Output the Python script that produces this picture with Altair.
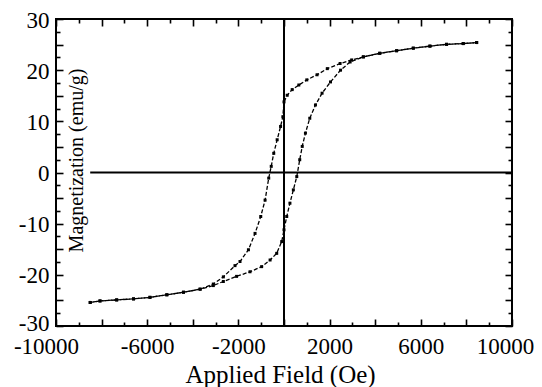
import altair as alt
import pandas as pd

# Descending branch (field swept from + to -)
desc_H = [8450, 7860, 7130, 6400, 5670, 4940, 4200, 3480, 2970, 2460, 1900, 1450, 1000, 650, 360, 140, 0,
          -50, -150, -300, -450, -560, -670, -830, -1020, -1270, -1560, -1930, -2150, -2660, -3100, -3680,
          -4410, -5140, -5880, -6600, -7340, -8070, -8500]
desc_M = [25.4, 25.2, 25.05, 24.7, 24.3, 23.8, 23.3, 22.6, 22.0, 21.3, 20.3, 19.1, 18.1, 17.1, 16.2, 15.1, 13.8,
          10.9, 9.0, 6.4, 3.75, 1.2, -1.1, -5.4, -8.6, -11.9, -15.1, -17.4, -18.2, -20.4, -21.8, -22.8,
          -23.4, -23.9, -24.4, -24.7, -24.9, -25.1, -25.4]

# Ascending branch (field swept from - to +)
asc_H = [-8500, -8070, -7340, -6600, -5880, -5140, -4410, -3680, -3100, -2660, -2080, -1490, -980, -610, -320,
         -100, 0, 120, 260, 410, 560, 690, 800, 940, 1130, 1380, 1670, 2040, 2480, 2900, 3480, 4200, 4940,
         5670, 6400, 7130, 7860, 8450]
asc_M = [-25.4, -25.1, -24.9, -24.7, -24.4, -23.9, -23.4, -22.8, -22.1, -21.3, -20.3, -19.4, -18.4, -17.1, -15.8,
         -13.5, -11.2, -8.6, -6.0, -3.4, -0.8, 2.5, 5.1, 7.7, 10.6, 13.2, 15.5, 17.7, 20.0, 21.6, 22.6, 23.3, 23.8,
         24.3, 24.7, 25.05, 25.2, 25.4]

x_label_values = [-10000, -6000, -2000, 2000, 6000, 10000]
x_major_ticks = list(range(-10000, 10001, 2000))
x_minor_ticks = list(range(-9000, 10000, 2000))
y_label_values = [-30, -20, -10, 0, 10, 20, 30]
y_major_ticks = list(range(-30, 31, 5))
y_minor_ticks = [-27.5, -22.5, -17.5, -12.5, -7.5, -2.5, 2.5, 7.5, 12.5, 17.5, 22.5, 27.5]
zero_values = [0]
hline_start = -8500
hline_end = 10000

rows = []
for i, (h, m) in enumerate(zip(desc_H, desc_M)):
    rows.append({"H": h, "M": m, "branch": "desc", "order": i})
for i, (h, m) in enumerate(zip(asc_H, asc_M)):
    rows.append({"H": h, "M": m, "branch": "asc", "order": i})
df = pd.DataFrame(rows)
zdf = pd.DataFrame({"v": zero_values})

W, H = 456, 307
FONT = "Liberation Serif"
HYPHEN_LABEL = "datum.value < 0 ? '-' + abs(datum.value) : '' + datum.value"

xscale = alt.Scale(domain=[-10000, 10000], nice=False, zero=False)
yscale = alt.Scale(domain=[-30, 30], nice=False, zero=False)

line = alt.Chart(df).mark_line(
    color="black", strokeWidth=1.3, strokeDash=[4, 2],
    point=alt.OverlayMarkDef(shape="square", size=9, filled=True, color="black")
).encode(
    x=alt.X("H:Q", scale=xscale, axis=alt.Axis(
        orient="bottom",
        values=x_label_values, ticks=False, domain=False, grid=False, labelExpr=HYPHEN_LABEL,
        labelFont=FONT, labelFontSize=23, labelColor="black", labelPadding=9, labelFlush=False,
        labelOverlap=False,
        labelOffset={"condition": [{"test": "datum.value <= -10000", "value": -10},
                                   {"test": "datum.value >= 10000", "value": -7}], "value": 0},
        title="Applied Field (Oe)", titleFont=FONT, titleFontSize=25, titleFontWeight="normal",
        titleColor="black", titleX=224, titleY=56, titleBaseline="alphabetic", titleAlign="center")),
    y=alt.Y("M:Q", scale=yscale, axis=alt.Axis(
        orient="left",
        values=y_label_values, ticks=False, domain=False, grid=False, labelExpr=HYPHEN_LABEL,
        labelFont=FONT, labelFontSize=23, labelColor="black", labelPadding=7, labelFlush=False,
        labelOverlap=False,
        labelOffset={"condition": {"test": "datum.value <= -30", "value": -3}, "value": 1},
        title="Magnetization (emu/g)", titleFont=FONT, titleFontSize=20, titleFontWeight="normal",
        titleColor="black", titleAngle=270, titleX=26, titleY=141, titleBaseline="alphabetic",
        titleAlign="center")),
    detail="branch:N",
    order="order:Q",
)


def tick_layer(xorient, xoffset, yorient, yoffset, xvals, yvals, size):
    return alt.Chart(df).mark_point(opacity=0).encode(
        x=alt.X("H:Q", scale=xscale, axis=alt.Axis(
            orient=xorient, offset=xoffset, values=xvals, labels=False, domain=False, grid=False,
            title=None, tickSize=size, tickColor="black", tickWidth=1.6)),
        y=alt.Y("M:Q", scale=yscale, axis=alt.Axis(
            orient=yorient, offset=yoffset, values=yvals, labels=False, domain=False, grid=False,
            title=None, tickSize=size, tickColor="black", tickWidth=1.6)),
    )


t1 = tick_layer("top", -H, "right", -W, x_major_ticks, y_major_ticks, 7)
t2 = tick_layer("top", -H, "right", -W, x_minor_ticks, y_minor_ticks, 4)
t3 = tick_layer("bottom", -H, "left", -W, x_major_ticks, y_major_ticks, 7)
t4 = tick_layer("bottom", -H, "left", -W, x_minor_ticks, y_minor_ticks, 4)

vline = alt.Chart(zdf).mark_rule(color="black", strokeWidth=2).encode(
    x=alt.X("v:Q", scale=xscale, axis=None)
)
hline = alt.Chart(zdf).mark_rule(color="black", strokeWidth=2).encode(
    y=alt.Y("v:Q", scale=yscale, axis=None),
    x=alt.datum(hline_start, axis=None),
    x2=alt.datum(hline_end),
)

chart = alt.layer(line, t1, t2, t3, t4, vline, hline).resolve_axis(
    x="independent", y="independent"
).properties(
    width=W, height=H, autosize="none",
    padding={"left": 56, "top": 19, "right": 30, "bottom": 61},
    background="white",
).configure_view(stroke="black", strokeWidth=2)

chart.save("out.html", embed_options={"renderer": "svg", "actions": False})
